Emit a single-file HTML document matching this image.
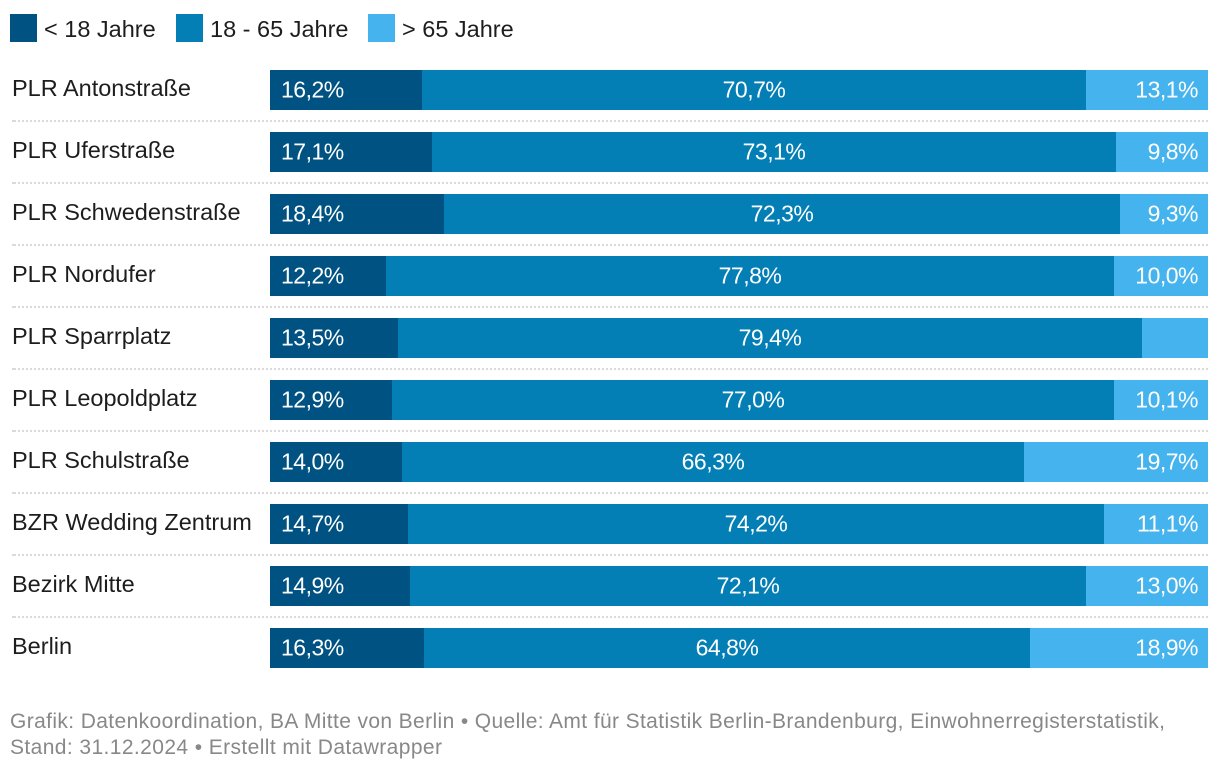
<!DOCTYPE html>
<html lang="de">
<head>
<meta charset="utf-8">
<title>Altersstruktur</title>
<style>
html,body{margin:0;padding:0;background:#fff;}
body{width:1220px;height:770px;overflow:hidden;}
svg{display:block;font-family:"Liberation Sans",sans-serif;}
</style>
</head>
<body>
<svg id="chart" width="1220" height="770" viewBox="0 0 1220 770" xmlns="http://www.w3.org/2000/svg">
  <g>
    <rect x="10" y="14" width="27" height="28" fill="#005282"/>
    <text x="44" y="37" font-size="23.5" fill="#1d1d1d">&lt; 18 Jahre</text>
    <rect x="176" y="14" width="27" height="28" fill="#037fb6"/>
    <text x="210" y="37" font-size="23.5" fill="#1d1d1d">18 - 65 Jahre</text>
    <rect x="368" y="14" width="27" height="28" fill="#45b3ed"/>
    <text x="402" y="37" font-size="23.5" fill="#1d1d1d">&gt; 65 Jahre</text>
  </g>
  <g id="rows"></g>
  <g font-size="21" fill="#888888">
    <text x="10" y="728" textLength="1155">Grafik: Datenkoordination, BA Mitte von Berlin • Quelle: Amt für Statistik Berlin-Brandenburg, Einwohnerregisterstatistik,</text>
    <text x="10" y="754" textLength="432">Stand: 31.12.2024 • Erstellt mit Datawrapper</text>
  </g>
</svg>
<script>
const categories = ["PLR Antonstraße","PLR Uferstraße","PLR Schwedenstraße","PLR Nordufer","PLR Sparrplatz","PLR Leopoldplatz","PLR Schulstraße","BZR Wedding Zentrum","Bezirk Mitte","Berlin"];
const under18 = [16.2,17.1,18.4,12.2,13.5,12.9,14.0,14.7,14.9,16.3];
const age18to65 = [70.7,73.1,72.3,77.8,79.4,77.0,66.3,74.2,72.1,64.8];
const over65 = [13.1,9.8,9.3,10.0,7.1,10.1,19.7,11.1,13.0,18.9];

const NS = 'http://www.w3.org/2000/svg';
const PLOT_LEFT = 270, PLOT_WIDTH = 938, ROW_TOP = 70, ROW_STEP = 62, BAR_HEIGHT = 40;
const COLOR_A = '#005282', COLOR_B = '#037fb6', COLOR_C = '#45b3ed', RULE_COLOR = '#dadada';
const MIN_LABEL_SHARE = 8;

function xScale(v) { return PLOT_LEFT + v / 100 * PLOT_WIDTH; }
function yScale(i) { return ROW_TOP + i * ROW_STEP; }
function snapUp(x) { return Math.ceil((x - 0.05) / 2) * 2; }
function snapRound(x) { return Math.round(x / 2) * 2; }
function fmt(v) { return v.toFixed(1).replace('.', ',') + '%'; }

const rowsGroup = document.getElementById('rows');

function makeRect(parent, x, y, w, h, fill) {
  const r = document.createElementNS(NS, 'rect');
  r.setAttribute('x', x);
  r.setAttribute('y', y);
  r.setAttribute('width', Math.max(0, w));
  r.setAttribute('height', h);
  r.setAttribute('fill', fill);
  parent.appendChild(r);
  return r;
}
function makeText(parent, x, y, str, fill, anchor) {
  const t = document.createElementNS(NS, 'text');
  t.setAttribute('x', x);
  t.setAttribute('y', y);
  t.setAttribute('font-size', '23');
  t.setAttribute('letter-spacing', '-0.5');
  t.setAttribute('fill', fill);
  t.setAttribute('text-anchor', anchor);
  t.textContent = str;
  parent.appendChild(t);
  return t;
}

categories.forEach(function (cat, i) {
  const y = yScale(i);
  const x1 = snapUp(xScale(under18[i]));
  const x2 = snapRound(xScale(under18[i] + age18to65[i]));
  const x3 = xScale(100);

  const g = document.createElementNS(NS, 'g');
  
  
  rowsGroup.appendChild(g);

  const name = makeText(g, 12, y + 26, cat, '#1d1d1d', 'start');
  name.setAttribute('font-size', '23.5');
  name.setAttribute('letter-spacing', '0');
  
  

  const a = makeRect(g, PLOT_LEFT, y, x1 - PLOT_LEFT, BAR_HEIGHT, COLOR_A);
  
  
  const b = makeRect(g, x1, y, x2 - x1, BAR_HEIGHT, COLOR_B);
  
  
  const c = makeRect(g, x2, y, x3 - x2, BAR_HEIGHT, COLOR_C);
  
  

  const la = makeText(g, PLOT_LEFT + 11, y + 27.5, fmt(under18[i]), '#ffffff', 'start');
  
  
  const lb = makeText(g, (x1 + x2) / 2, y + 27.5, fmt(age18to65[i]), '#ffffff', 'middle');
  
  
  if (over65[i] >= MIN_LABEL_SHARE) {
    const lc = makeText(g, x3 - 10, y + 27.5, fmt(over65[i]), '#ffffff', 'end');
    
    
  }

  if (i < categories.length - 1) {
    const line = document.createElementNS(NS, 'line');
    line.setAttribute('x1', x3);
    line.setAttribute('x2', 14);
    line.setAttribute('y1', y + 51);
    line.setAttribute('y2', y + 51);
    line.setAttribute('stroke', RULE_COLOR);
    line.setAttribute('stroke-width', '2');
    line.setAttribute('stroke-dasharray', '2 2');
    
    
    g.appendChild(line);
    const cap = makeRect(g, 12, y + 50, 4, 2, RULE_COLOR);
    
    
  }
});
</script>
</body>
</html>
